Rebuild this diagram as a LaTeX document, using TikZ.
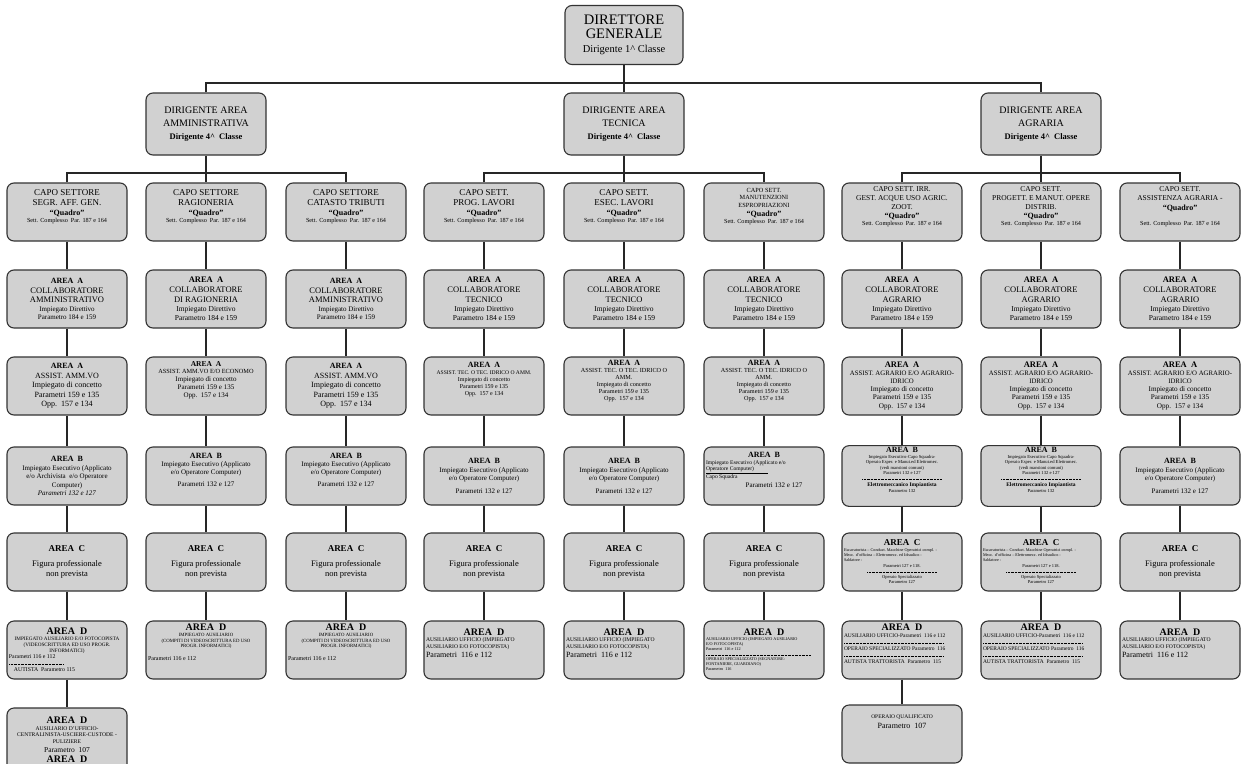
\documentclass[tikz,border=0pt]{standalone}
\usepackage{fontspec}
\setmainfont{Liberation Serif}

\newcommand{\fs}[2]{\fontsize{#1}{#2}\selectfont}
\newcommand{\areahd}[3]{{\fs{#2}{#3}\bfseries AREA\enspace #1\par}}
\newcommand{\quadro}{{\fs{8}{9.5}\bfseries “Quadro”\par}{\fs{6.2}{7}Sett. Complesso\ \ Par. 187 e 164\par}}
\newcommand{\nonprev}{\areahd{C}{9}{10.5}\vspace{5pt}{\fs{8.5}{10}Figura professionale\\non prevista\par}}
\newcommand{\dashsep}[1]{\makebox[#1]{\xleaders\hbox to 1.4pt{\hss\rule[0.45ex]{0.8pt}{0.3pt}\hss}\hfill}}
\newcommand{\pad}[1]{\par\rule{0pt}{#1pt}\par}

\begin{document}
\begin{tikzpicture}[x=1pt, y=-1pt,
    box/.style={draw=black!80, fill=black!18, rounded corners=7pt, line width=1.1pt,
                minimum height=58pt, text width=116pt, inner sep=2pt, align=flush center},
    link/.style={line width=2.6pt, black!85}
]
\useasboundingbox (0,0) rectangle (1242,763);
\clip (0,0) rectangle (1242,763);

% vertice
\node[box, text width=114pt, minimum height=59pt] (dg) at (624,35) {{\fs{14.5}{14.5}DIRETTORE\\GENERALE\par}\vspace{1pt}{\fs{10.5}{13}Dirigente 1\textasciicircum\ Classe\par}};
\node[box, minimum height=62pt] (da) at (206,124) {{\fs{10}{13}DIRIGENTE AREA\\AMMINISTRATIVA\par}\vspace{1pt}{\fs{8.5}{12}\bfseries Dirigente 4\textasciicircum\ \ Classe\par}};
\node[box, minimum height=62pt] (dt) at (624,124) {{\fs{10}{13}DIRIGENTE AREA\\TECNICA\par}\vspace{1pt}{\fs{8.5}{12}\bfseries Dirigente 4\textasciicircum\ \ Classe\par}};
\node[box, minimum height=62pt] (dag) at (1041,124) {{\fs{10}{13}DIRIGENTE AREA\\AGRARIA\par}\vspace{1pt}{\fs{8.5}{12}\bfseries Dirigente 4\textasciicircum\ \ Classe\par}};

% area amministrativa
\node[box] (capo1) at (67,212) {{\fs{9}{10.5}CAPO SETTORE\\SEGR. AFF.\ GEN.\par}\quadro\pad{10}};
\node[box] (colab1) at (67,299) {\areahd{A}{8}{9.5}{\fs{8.5}{9.5}COLLABORATORE\\AMMINISTRATIVO\par}{\fs{7}{8.5}Impiegato Direttivo\\Parametro 184 e 159\par}};
\node[box] (assist1) at (67,386) {\areahd{A}{8}{9.5}{\fs{8}{9.5}ASSIST. AMM.VO\\Impiegato di concetto\\Parametri 159 e 135\\Opp.\ \ 157 e 134\par}};
\node[box] (areab1) at (67,476) {\areahd{B}{8}{10}{\fs{7}{8.5}Impiegato Esecutivo (Applicato\\e/o Archivista\ \ e/o Operatore\\Computer)\\\textit{Parametri 132 e 127}\par}};
\node[box] (areac1) at (67,562) {\nonprev};
\node[box] (aread1) at (67,650) {\areahd{D}{10}{10.5}{\fs{5.2}{5.8}IMPIEGATO AUSILIARIO E/O FOTOCOPISTA\\(VIDEOSCRITTURA ED USO PROGR.\\INFORMATICI)\par}{\fs{5.8}{6.5}\raggedright Parametri 116 e 112\\\dashsep{55pt}\\\hspace*{5pt}AUTISTA\ \ Parametro 115\par}};
\node[box, minimum height=84pt] (extra1) at (67,750) {\areahd{D}{10}{11}{\fs{5.6}{6.5}AUSILIARIO D'UFFICIO-\\CENTRALINISTA-USCIERE-CUSTODE -\\PULIZIERE\par}{\fs{7.5}{9}Parametro\ \ 107\par}\areahd{D}{10}{10}\pad{20}};

\node[box] (capo2) at (206,212) {{\fs{9}{10.5}CAPO SETTORE\\RAGIONERIA\par}\quadro\pad{10}};
\node[box] (colab2) at (206,299) {\areahd{A}{8.5}{10}{\fs{8.5}{10}COLLABORATORE\\DI RAGIONERIA\par}{\fs{7.5}{9}Impiegato Direttivo\\Parametro 184 e 159\par}};
\node[box] (assist2) at (206,386) {\areahd{A}{7.5}{8.5}{\fs{6.3}{7}ASSIST. AMM.VO E/O ECONOMO\par}{\fs{7}{8}Impiegato di concetto\\Parametri 159 e 135\\Opp.\ \ 157 e 134\par}\pad{7}};
\node[box] (areab2) at (206,476) {\areahd{B}{8}{10}{\fs{7}{8}Impiegato Esecutivo (Applicato\\e/o Operatore Computer)\par}\vspace{4pt}{\fs{7}{8}Parametri 132 e 127\par}\pad{4}};
\node[box] (areac2) at (206,562) {\nonprev};
\node[box] (aread2) at (206,650) {\areahd{D}{10}{11}{\fs{4.8}{5.6}IMPIEGATO AUSILIARIO\\(COMPITI DI VIDEOSCRITTURA ED USO\\PROGR. INFORMATICI)\par}\vspace{6pt}{\fs{6}{7}\raggedright Parametri 116 e 112\par}\pad{14}};

\node[box] (capo3) at (346,212) {{\fs{9}{10.5}CAPO SETTORE\\CATASTO TRIBUTI\par}\quadro\pad{10}};
\node[box] (colab3) at (346,299) {\areahd{A}{8}{9.5}{\fs{8.5}{9.5}COLLABORATORE\\AMMINISTRATIVO\par}{\fs{7}{8.5}Impiegato Direttivo\\Parametro 184 e 159\par}};
\node[box] (assist3) at (346,386) {\areahd{A}{8}{9.5}{\fs{8}{9.5}ASSIST. AMM.VO\\Impiegato di concetto\\Parametri 159 e 135\\Opp.\ \ 157 e 134\par}};
\node[box] (areab3) at (346,476) {\areahd{B}{8}{10}{\fs{7}{8}Impiegato Esecutivo (Applicato\\e/o Operatore Computer)\par}\vspace{4pt}{\fs{7}{8}Parametri 132 e 127\par}\pad{4}};
\node[box] (areac3) at (346,562) {\nonprev};
\node[box] (aread3) at (346,650) {\areahd{D}{10}{11}{\fs{4.8}{5.6}IMPIEGATO AUSILIARIO\\(COMPITI DI VIDEOSCRITTURA ED USO\\PROGR. INFORMATICI)\par}\vspace{6pt}{\fs{6}{7}\raggedright Parametri 116 e 112\par}\pad{14}};

% area tecnica
\node[box] (capo4) at (484,212) {{\fs{9}{10.5}CAPO SETT.\\PROG. LAVORI\par}\quadro\pad{10}};
\node[box] (colab4) at (484,299) {\areahd{A}{8.5}{10}{\fs{8.5}{10}COLLABORATORE\\TECNICO\par}{\fs{7.5}{9}Impiegato Direttivo\\Parametro 184 e 159\par}};
\node[box] (assist4) at (484,386) {\areahd{A}{8}{9}{\fs{5.6}{6.5}ASSIST. TEC. O TEC. IDRICO O AMM.\par}{\fs{6}{7}Impiegato di concetto\\Parametri 159 e 135\\Opp.\ \ 157 e 134\par}\pad{12}};
\node[box] (areab4) at (484,476) {\areahd{B}{8}{10}{\fs{7}{8.5}Impiegato Esecutivo (Applicato\\e/o Operatore Computer)\par}\vspace{4pt}{\fs{7}{8.5}Parametri 132 e 127\par}};
\node[box] (areac4) at (484,562) {\nonprev};
\node[box] (aread4) at (484,650) {\areahd{D}{10}{11}{\raggedright{\fs{5.6}{6.5}AUSILIARIO UFFICIO (IMPIEGATO\\AUSILIARIO E/O FOTOCOPISTA)\par}{\fs{8}{9.5}Parametri\ \ 116 e 112\par}}\pad{13}};

\node[box] (capo5) at (624,212) {{\fs{9}{10.5}CAPO SETT.\\ESEC. LAVORI\par}\quadro\pad{10}};
\node[box] (colab5) at (624,299) {\areahd{A}{8.5}{10}{\fs{8.5}{10}COLLABORATORE\\TECNICO\par}{\fs{7.5}{9}Impiegato Direttivo\\Parametro 184 e 159\par}};
\node[box] (assist5) at (624,386) {\areahd{A}{8}{9}{\fs{6.2}{7}ASSIST. TEC. O TEC. IDRICO O\\AMM.\\Impiegato di concetto\\Parametri 159 e 135\\Opp.\ \ 157 e 134\par}\pad{3}};
\node[box] (areab5) at (624,476) {\areahd{B}{8}{10}{\fs{7}{8.5}Impiegato Esecutivo (Applicato\\e/o Operatore Computer)\par}\vspace{4pt}{\fs{7}{8.5}Parametri 132 e 127\par}};
\node[box] (areac5) at (624,562) {\nonprev};
\node[box] (aread5) at (624,650) {\areahd{D}{10}{11}{\raggedright{\fs{5.6}{6.5}AUSILIARIO UFFICIO (IMPIEGATO\\AUSILIARIO E/O FOTOCOPISTA)\par}{\fs{8}{9.5}Parametri\ \ 116 e 112\par}}\pad{13}};

\node[box] (capo6) at (764,212) {{\fs{6.3}{7.3}CAPO SETT.\\MANUTENZIONI\\ESPROPRIAZIONI\par}\quadro\pad{7}};
\node[box] (colab6) at (764,299) {\areahd{A}{8.5}{10}{\fs{8.5}{10}COLLABORATORE\\TECNICO\par}{\fs{7.5}{9}Impiegato Direttivo\\Parametro 184 e 159\par}};
\node[box] (assist6) at (764,386) {\areahd{A}{8}{9}{\fs{6.2}{7}ASSIST. TEC. O TEC. IDRICO O\\AMM.\\Impiegato di concetto\\Parametri 159 e 135\\Opp.\ \ 157 e 134\par}\pad{3}};
\node[box] (areab6) at (764,476) {\areahd{B}{8}{9.5}{\raggedright\fs{5.6}{6.5}Impiegato Esecutivo (Applicato e/o\\\underline{Operatore Computer)\hspace{14pt}}\\Capo Squadra\par}{\fs{7}{8.5}\hspace*{20pt}Parametri 132 e 127\par}\pad{3}};
\node[box] (areac6) at (764,562) {\nonprev};
\node[box] (aread6) at (764,650) {\areahd{D}{10}{11}{\raggedright\fs{4.2}{5}AUSILIARIO UFFICIO (IMPIEGATO AUSILIARIO\\E/O FOTOCOPISTA)\\Parametri\ \ 116 e 112\\\dashsep{105pt}\\OPERAIO SPECIALIZZATO (SEGNATORE-\\FONTANIERE, GUARDIANO)\\Parametro\ \ 116\par}};

% area agraria
\node[box] (capo7) at (902,212) {{\fs{7.5}{9}CAPO SETT. IRR.\\GEST. ACQUE USO AGRIC.\\ZOOT.\par}\quadro\pad{3}};
\node[box] (colab7) at (902,299) {\areahd{A}{8.5}{10}{\fs{8.5}{10}COLLABORATORE\\AGRARIO\par}{\fs{7.5}{9}Impiegato Direttivo\\Parametro 184 e 159\par}};
\node[box] (assist7) at (902,386) {\areahd{A}{8.5}{9.5}{\fs{6.8}{7.8}ASSIST. AGRARIO E/O AGRARIO-\\IDRICO\par}{\fs{7.2}{8.2}Impiegato di concetto\\Parametri 159 e 135\\Opp.\ \ 157 e 134\par}};
\node[box] (areab7) at (902,476) {\areahd{B}{8}{9.5}{\fs{4.6}{5.4}Impiegato Esecutivo-Capo Squadra-\\Operaio Esper. e Manut.ed Elettromec.\\(vedi mansioni comuni)\\Parametri 132 e 127\\\dashsep{80pt}\par}{\fs{5.5}{7}\bfseries Elettromeccanico Impiantista\par}{\fs{4.6}{5.4}Parametro 132\par}\pad{5}};
\node[box] (areac7) at (902,562) {\areahd{C}{9}{10}{\raggedright\fs{4.2}{5.2}Escavatorista -- Conduct.\ Macchine Operatrici compl. -\\Mecc. d'officina -- Elettromecc. ed Idraulico -\\Saldatore -\par}{\fs{4.5}{5.6}Parametri 127 e 118.\\\dashsep{70pt}\\Operaio Specializzato\\Parametro 127\par}};
\node[box] (aread7) at (902,650) {\areahd{D}{10}{11}{\raggedright\fs{5.5}{6.6}AUSILIARIO UFFICIO-Parametri\ \ 116 e 112\\\dashsep{100pt}\\OPERAIO SPECIALIZZATO Parametro\ \ 116\\\dashsep{100pt}\\AUTISTA TRATTORISTA\ \ Parametro\ \ 115\par}\pad{6}};
\node[box] (extra7) at (902,734) {{\fs{5.5}{6.5}OPERAIO QUALIFICATO\par}{\fs{8}{9.5}Parametro\ \ 107\par}\pad{24}};

\node[box] (capo8) at (1041,212) {{\fs{7.5}{9}CAPO SETT.\\PROGETT. E MANUT. OPERE\\DISTRIB.\par}\quadro\pad{3}};
\node[box] (colab8) at (1041,299) {\areahd{A}{8.5}{10}{\fs{8.5}{10}COLLABORATORE\\AGRARIO\par}{\fs{7.5}{9}Impiegato Direttivo\\Parametro 184 e 159\par}};
\node[box] (assist8) at (1041,386) {\areahd{A}{8.5}{9.5}{\fs{6.8}{7.8}ASSIST. AGRARIO E/O AGRARIO-\\IDRICO\par}{\fs{7.2}{8.2}Impiegato di concetto\\Parametri 159 e 135\\Opp.\ \ 157 e 134\par}};
\node[box] (areab8) at (1041,476) {\areahd{B}{8}{9.5}{\fs{4.6}{5.4}Impiegato Esecutivo-Capo Squadra-\\Operaio Esper. e Manut.ed Elettromec.\\(vedi mansioni comuni)\\Parametri 132 e 127\\\dashsep{80pt}\par}{\fs{5.5}{7}\bfseries Elettromeccanico Impiantista\par}{\fs{4.6}{5.4}Parametro 132\par}\pad{5}};
\node[box] (areac8) at (1041,562) {\areahd{C}{9}{10}{\raggedright\fs{4.2}{5.2}Escavatorista -- Conduct.\ Macchine Operatrici compl. -\\Mecc. d'officina -- Elettromecc. ed Idraulico -\\Saldatore -\par}{\fs{4.5}{5.6}Parametri 127 e 118.\\\dashsep{70pt}\\Operaio Specializzato\\Parametro 127\par}};
\node[box] (aread8) at (1041,650) {\areahd{D}{10}{11}{\raggedright\fs{5.5}{6.6}AUSILIARIO UFFICIO-Parametri\ \ 116 e 112\\\dashsep{100pt}\\OPERAIO SPECIALIZZATO Parametro\ \ 116\\\dashsep{100pt}\\AUTISTA TRATTORISTA\ \ Parametro\ \ 115\par}\pad{6}};

\node[box] (capo9) at (1180,212) {{\fs{7.5}{9}CAPO SETT.\\ASSISTENZA AGRARIA -\par}{\fs{8}{9.5}\bfseries “Quadro”\par}\vspace{8pt}{\fs{6.2}{7}Sett. Complesso\ \ Par. 187 e 164\par}\pad{5}};
\node[box] (colab9) at (1180,299) {\areahd{A}{8.5}{10}{\fs{8.5}{10}COLLABORATORE\\AGRARIO\par}{\fs{7.5}{9}Impiegato Direttivo\\Parametro 184 e 159\par}};
\node[box] (assist9) at (1180,386) {\areahd{A}{8.5}{9.5}{\fs{6.8}{7.8}ASSIST. AGRARIO E/O AGRARIO-\\IDRICO\par}{\fs{7.2}{8.2}Impiegato di concetto\\Parametri 159 e 135\\Opp.\ \ 157 e 134\par}};
\node[box] (areab9) at (1180,476) {\areahd{B}{8}{10}{\fs{7}{8.5}Impiegato Esecutivo (Applicato\\e/o Operatore Computer)\par}\vspace{4pt}{\fs{7}{8.5}Parametri 132 e 127\par}};
\node[box] (areac9) at (1180,562) {\nonprev};
\node[box] (aread9) at (1180,650) {\areahd{D}{10}{11}{\raggedright{\fs{5.6}{6.5}AUSILIARIO UFFICIO (IMPIEGATO\\AUSILIARIO E/O FOTOCOPISTA)\par}{\fs{8}{9.5}Parametri\ \ 116 e 112\par}}\pad{13}};

% collegamenti
\coordinate (bustop) at (624,83);
\coordinate (busam) at (206,173);
\coordinate (bustec) at (624,173);
\coordinate (busagr) at (1041,173);

\draw[link] (dg) -- (dt);
\draw[link] (da.north) |- (bustop) -| (dag.north);
\draw[link] (da) -- (capo2);
\draw[link] (capo1.north) |- (busam) -| (capo3.north);
\draw[link] (dt) -- (capo5);
\draw[link] (capo4.north) |- (bustec) -| (capo6.north);
\draw[link] (dag) -- (capo8);
\draw[link] (capo7.north) |- (busagr) -| (capo9.north);

\foreach \i in {1,...,9}
  \draw[link] (capo\i) -- (colab\i) -- (assist\i) -- (areab\i) -- (areac\i) -- (aread\i);
\draw[link] (aread1) -- (extra1);
\draw[link] (aread7) -- (extra7);
\end{tikzpicture}
\end{document}
